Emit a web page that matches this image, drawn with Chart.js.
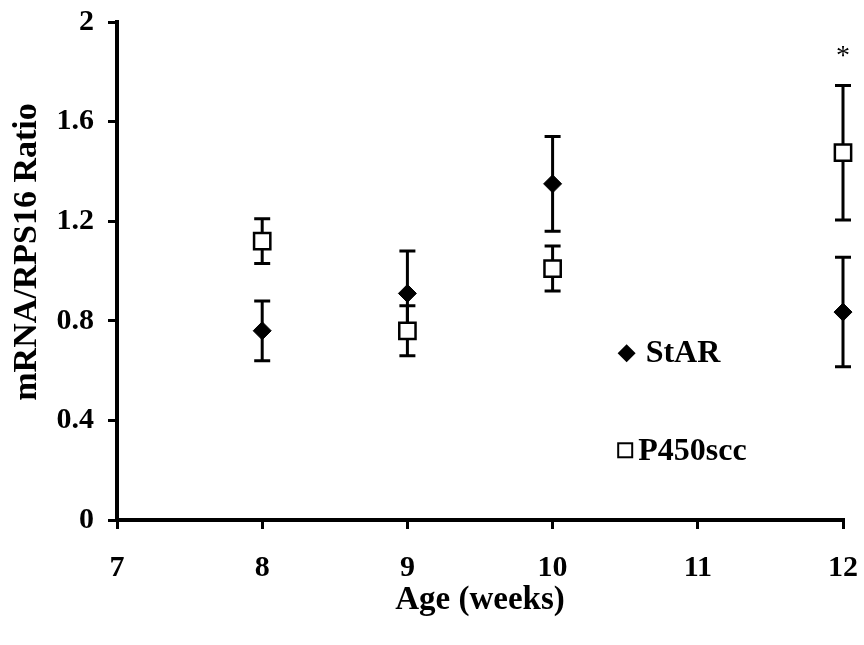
<!DOCTYPE html>
<html>
<head>
<meta charset="utf-8">
<script src="https://cdn.jsdelivr.net/npm/chart.js@4.4.1/dist/chart.umd.min.js"></script>
<style>
  body { margin: 0; background: #fff; }
  #wrap { width: 864px; height: 645px; position: relative; }
</style>
</head>
<body>
<div id="wrap"><canvas id="ageChart"></canvas></div>
<script>
const ages = [8, 9, 10, 12];

const starMean = [0.76, 0.91, 1.35, 0.835];
const starErr = [0.12, 0.17, 0.19, 0.22];

const p450Mean = [1.12, 0.76, 1.01, 1.475];
const p450Err = [0.09, 0.10, 0.09, 0.27];

const yTicks = [0, 0.4, 0.8, 1.2, 1.6, 2];
const xTicks = [7, 8, 9, 10, 11, 12];

const yTitle = 'mRNA/RPS16 Ratio';
const xTitle = 'Age (weeks)';

// significance mark above the 12-week P450scc bar
const starMarks = [{ x: 12, y: 1.86, text: '*' }];

const legendPos = [{ x: 10.51, y: 0.67 }, { x: 10.5, y: 0.28 }];

const serif = '"Liberation Serif", "Times New Roman", serif';

function toPoints(xs, ys, errs) {
  return xs.map((x, i) => ({ x: x, y: ys[i], err: errs[i] }));
}

const errorBars = {
  id: 'errorBars',
  beforeDatasetsDraw(chart) {
    const ctx = chart.ctx;
    const xs = chart.scales.x;
    const ys = chart.scales.y;
    ctx.save();
    ctx.strokeStyle = '#000';
    ctx.lineWidth = 3;
    chart.data.datasets.forEach(ds => {
      ds.data.forEach(p => {
        const px = xs.getPixelForValue(p.x);
        const top = ys.getPixelForValue(p.y + p.err);
        const bot = ys.getPixelForValue(p.y - p.err);
        ctx.beginPath();
        ctx.moveTo(px, top);
        ctx.lineTo(px, bot);
        ctx.moveTo(px - 8, top);
        ctx.lineTo(px + 8, top);
        ctx.moveTo(px - 8, bot);
        ctx.lineTo(px + 8, bot);
        ctx.stroke();
      });
    });
    ctx.restore();
  },
  afterDatasetsDraw(chart) {
    const ctx = chart.ctx;
    const xs = chart.scales.x;
    const ys = chart.scales.y;
    ctx.save();
    ctx.fillStyle = '#000';

    // y axis title, a little above the middle as in the original
    ctx.save();
    ctx.translate(27, 252);
    ctx.rotate(-Math.PI / 2);
    ctx.font = 'bold 34px ' + serif;
    ctx.textAlign = 'center';
    ctx.textBaseline = 'middle';
    ctx.fillText(yTitle, 0, 0);
    ctx.restore();

    // asterisk
    ctx.font = '28px ' + serif;
    ctx.textAlign = 'center';
    ctx.textBaseline = 'middle';
    starMarks.forEach(m => {
      ctx.fillText(m.text, xs.getPixelForValue(m.x), ys.getPixelForValue(m.y));
    });

    // legend inside the plot
    ctx.font = 'bold 32px ' + serif;
    ctx.textAlign = 'left';
    chart.data.datasets.forEach((ds, i) => {
      const px = xs.getPixelForValue(legendPos[i].x);
      const py = ys.getPixelForValue(legendPos[i].y);
      ctx.lineWidth = 2;
      ctx.strokeStyle = '#000';
      if (i === 0) {
        ctx.beginPath();
        ctx.moveTo(px - 9, py);
        ctx.lineTo(px, py - 9);
        ctx.lineTo(px + 9, py);
        ctx.lineTo(px, py + 9);
        ctx.closePath();
        ctx.fill();
        ctx.fillText(ds.label, px + 19, py + 1);
      } else {
        ctx.fillStyle = '#fff';
        ctx.fillRect(px - 7, py - 7, 14, 14);
        ctx.strokeRect(px - 7, py - 7, 14, 14);
        ctx.fillStyle = '#000';
        ctx.fillText(ds.label, px + 13, py + 1);
      }
    });
    ctx.restore();
  }
};

const ctx = document.getElementById('ageChart').getContext('2d');
new Chart(ctx, {
  type: 'scatter',
  data: {
    datasets: [
      {
        label: 'StAR',
        data: toPoints(ages, starMean, starErr),
        pointStyle: 'rectRot',
        pointRadius: 9,
        pointHoverRadius: 9,
        backgroundColor: '#000',
        borderColor: '#000',
        borderWidth: 1,
        clip: false
      },
      {
        label: 'P450scc',
        data: toPoints(ages, p450Mean, p450Err),
        pointStyle: 'rect',
        pointRadius: 11.5,
        pointHoverRadius: 11.5,
        backgroundColor: '#fff',
        borderColor: '#000',
        borderWidth: 2.5,
        clip: false
      }
    ]
  },
  options: {
    responsive: true,
    maintainAspectRatio: false,
    animation: false,
    layout: { padding: { left: 0, right: 21, top: 22, bottom: 0 } },
    plugins: {
      legend: { display: false },
      tooltip: { enabled: false }
    },
    scales: {
      x: {
        type: 'linear',
        min: 7,
        max: 12,
        afterBuildTicks: axis => { axis.ticks = xTicks.map(v => ({ value: v })); },
        afterFit: axis => {
          axis.height = 125;
          axis.paddingLeft = 0;
          axis.paddingRight = 0;
        },
        border: { display: true, color: '#000', width: 4 },
        grid: { drawOnChartArea: false, drawTicks: true, tickLength: 9, color: '#000', lineWidth: 3 },
        ticks: {
          color: '#000',
          padding: 21,
          font: { family: serif, size: 30, weight: 'bold' }
        },
        title: {
          display: true,
          text: xTitle,
          color: '#000',
          padding: { top: 4, bottom: 25 },
          font: { family: serif, size: 33, weight: 'bold' }
        }
      },
      y: {
        type: 'linear',
        min: 0,
        max: 2,
        afterBuildTicks: axis => { axis.ticks = yTicks.map(v => ({ value: v })); },
        afterFit: axis => {
          axis.width = 117;
          axis.paddingTop = 0;
          axis.paddingBottom = 0;
        },
        border: { display: true, color: '#000', width: 4 },
        grid: { drawOnChartArea: false, drawTicks: true, tickLength: 9, color: '#000', lineWidth: 3 },
        ticks: {
          color: '#000',
          padding: 14,
          font: { family: serif, size: 30, weight: 'bold' },
          callback: v => String(v)
        }
      }
    }
  },
  plugins: [errorBars]
});
</script>
</body>
</html>
